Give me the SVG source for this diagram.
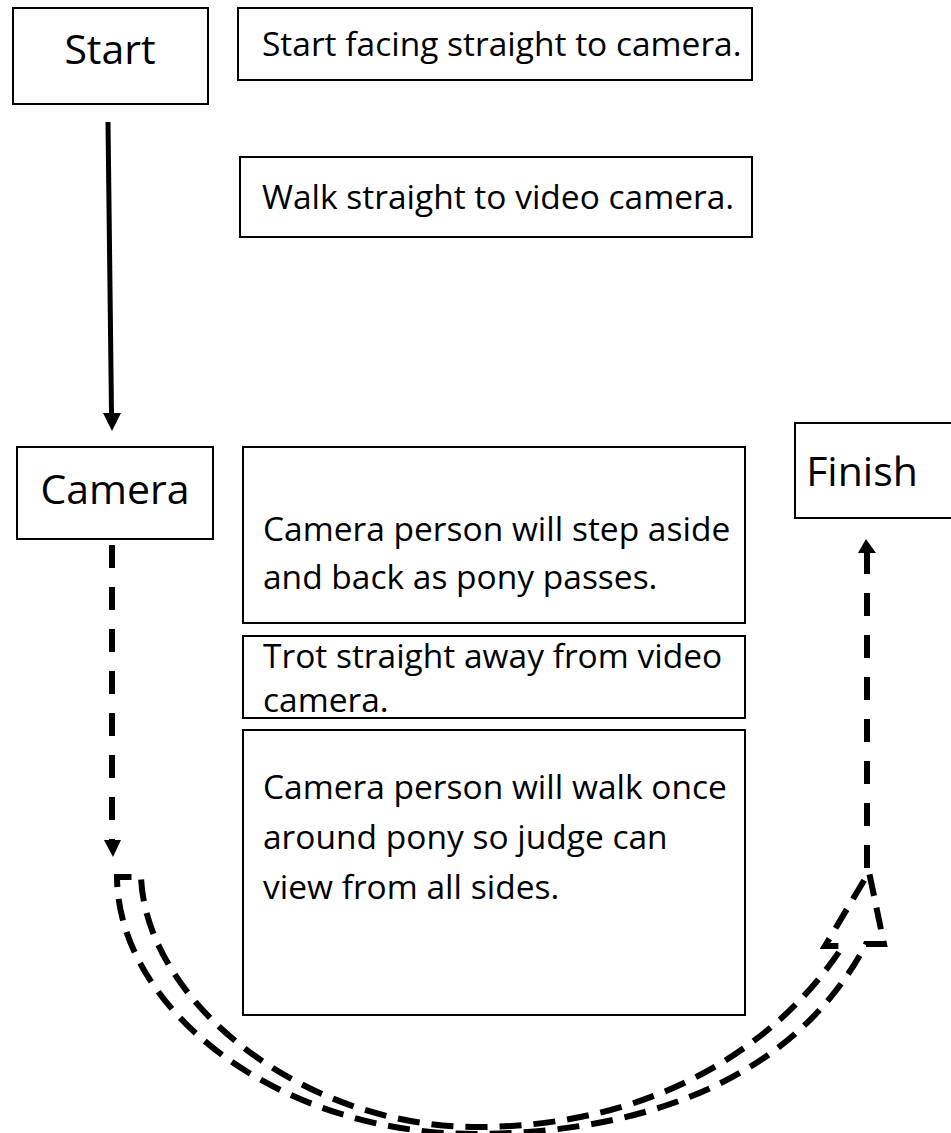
<svg xmlns="http://www.w3.org/2000/svg" width="951" height="1133" viewBox="0 0 951 1133">
<style>
.box{fill:#fff;stroke:#000;stroke-width:2}
.t{font-family:"Open Sans","Noto Sans",sans-serif;fill:#000}
.title{font-size:41px;text-anchor:middle}
.body{font-size:33.5px}
.solid{fill:none;stroke:#000;stroke-width:5}
.dash{fill:none;stroke:#000;stroke-width:6;stroke-dasharray:23 19}
.udash{fill:none;stroke:#000;stroke-width:6;stroke-dasharray:22 12}
</style>
<g id="connectors">
<line class="solid" x1="108" y1="122" x2="111.5" y2="414"/>
<polygon points="103,413 121,413 112,431" fill="#000"/>
<line class="dash" x1="112" y1="545" x2="112" y2="840"/>
<polygon points="104,840 121,840 113,857" fill="#000"/>
<line class="dash" x1="867" y1="868" x2="867" y2="552"/>
<polygon points="858,553 876,553 866,539" fill="#000"/>
<g id="uturn">
<path class="udash" d="M129,877 L117,877 C118,1010 280,1136 480,1134 C660,1132 800,1070 866,944 L884,944 L869,872 L825,946 L843,946 C775,1050 650,1126 480,1127 C300,1128 146,1000 141,877 Z"/>
</g>
</g>
<g id="start">
<rect class="box" x="13" y="8" width="195" height="96"/>
<text class="t title" x="110" y="64">Start</text>
</g>
<g id="note1">
<rect class="box" x="238" y="8" width="514" height="72"/>
<text class="t body" x="262" y="56">Start facing straight to camera.</text>
</g>
<g id="note2">
<rect class="box" x="240" y="157" width="512" height="80"/>
<text class="t body" x="262" y="209">Walk straight to video camera.</text>
</g>
<g id="camera">
<rect class="box" x="17" y="447" width="196" height="92"/>
<text class="t title" x="115" y="504">Camera</text>
</g>
<g id="finish">
<rect class="box" x="795" y="423" width="160" height="95"/>
<text class="t title" x="862" y="486">Finish</text>
</g>
<g id="note3">
<rect class="box" x="243" y="447" width="502" height="176"/>
<text class="t body" x="263" y="541">Camera person will step aside</text>
<text class="t body" x="263" y="589">and back as pony passes.</text>
</g>
<g id="note4">
<rect class="box" x="243" y="636" width="502" height="82"/>
<text class="t body" x="263" y="668">Trot straight away from video</text>
<text class="t body" x="263" y="712">camera.</text>
</g>
<g id="note5">
<rect class="box" x="243" y="730" width="502" height="285"/>
<text class="t body" x="263" y="799">Camera person will walk once</text>
<text class="t body" x="263" y="849">around pony so judge can</text>
<text class="t body" x="263" y="899">view from all sides.</text>
</g>
</svg>
